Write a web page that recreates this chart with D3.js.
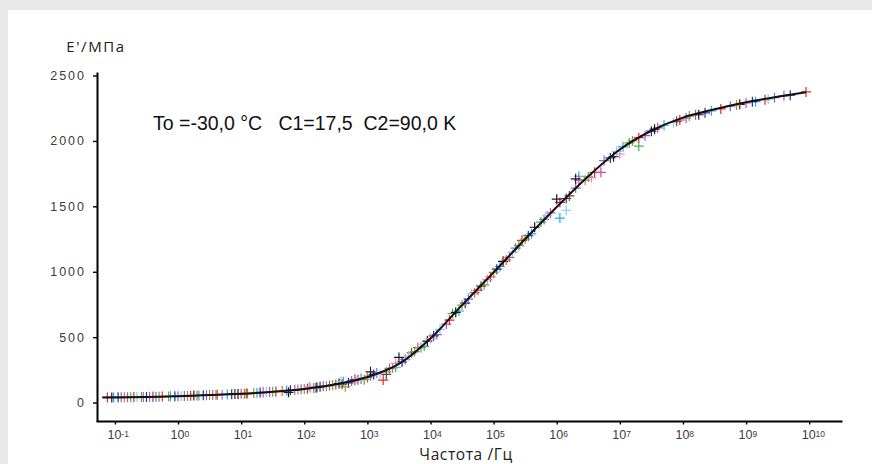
<!DOCTYPE html>
<html>
<head>
<meta charset="utf-8">
<script src="https://cdn.jsdelivr.net/npm/d3@7"></script>
<style>
  html, body { margin: 0; padding: 0; background: #e8e8e8; }
  svg { display: block; }
</style>
</head>
<body>
<svg id="chart" width="872" height="464"></svg>
<script>
// ---- Data (log10 of frequency in Hz, E' in MPa) ----
const xTickExponents = [-1, 0, 1, 2, 3, 4, 5, 6, 7, 8, 9, 10];
const yTickValues = [0, 500, 1000, 1500, 2000, 2500];
const yMinorValues = [-100, 100, 200, 300, 400, 600, 700, 800, 900, 1100, 1200, 1300, 1400,
  1600, 1700, 1800, 1900, 2100, 2200, 2300, 2400];

const masterLogF = [-1.2, -1.0, -0.5, 0, 0.5, 1, 1.5, 2, 2.5, 3, 3.5, 4, 4.5, 5, 5.5, 6, 6.5, 7, 7.5, 8, 8.5, 9, 9.5, 9.95];
const masterE    = [38, 39, 43, 49, 57, 67, 82, 104, 140, 195, 295, 490, 745, 995, 1250, 1495, 1730, 1935, 2078, 2178, 2242, 2296, 2338, 2372];

const seriesColors = ["#e4262c", "#1eaee8", "#8c64c8", "#d4459e", "#45b54a", "#2c2f90",
  "#1c1c1c", "#a39436", "#86cdef", "#ef5b25", "#e382c1", "#7b4a2c"];

const pointsRed = [[-1.12,39],[-0.7,42],[-0.25,46],[0.2,52],[0.62,59],[1.08,69],[1.55,84],[2.05,106],[2.5,138],[2.85,175],[3.25,172],[3.7,380],[4.3,630],[4.95,960],[5.45,1240],[6.05,1530],[6.6,1760],[7.3,2025],[7.95,2160],[8.6,2245],[9.3,2315],[9.95,2375]];
const pointsCyan = [[-1.02,39],[-0.58,43],[-0.12,48],[0.33,54],[0.78,62],[1.25,75],[1.72,92],[2.18,114],[2.62,160],[3.05,205],[3.45,270],[3.9,430],[4.45,700],[5.1,1040],[5.6,1290],[6.05,1410],[6.35,1730],[7.05,1955],[7.7,2120],[8.45,2230],[9.15,2300]];
const pointsPurple = [[-0.9,40],[-0.45,44],[0.0,49],[0.45,56],[0.9,65],[1.35,78],[1.85,97],[2.3,125],[2.75,165],[3.15,225],[3.6,330],[4.1,520],[4.6,790],[5.25,1110],[5.8,1400],[6.3,1640],[6.75,1850],[7.4,2040],[8.05,2175],[8.75,2265],[9.45,2330]];
const pointsMagenta = [[-0.8,41],[-0.35,45],[0.1,50],[0.55,58],[1.0,67],[1.45,80],[1.95,101],[2.4,130],[2.9,180],[3.35,260],[3.8,420],[4.25,600],[4.75,860],[5.35,1180],[5.9,1450],[6.35,1700],[6.7,1760],[7.6,2100],[8.2,2200],[9.0,2290],[9.6,2345]];
const pointsGreen = [[-0.75,41],[-0.3,45],[0.15,51],[0.6,59],[1.05,68],[1.5,82],[2.0,104],[2.45,135],[2.95,175],[3.3,235],[3.75,390],[4.35,680],[4.85,900],[5.4,1200],[5.75,1380],[6.5,1725],[7.15,1985],[7.3,1960]];
const pointsNavy = [[-0.95,40],[-0.5,43],[-0.05,48],[0.4,55],[0.85,64],[1.3,76],[1.78,94],[2.25,120],[2.7,150],[3.1,215],[3.55,310],[4.05,510],[4.55,760],[5.05,1020],[5.55,1275],[6.15,1560],[6.85,1870],[7.5,2075],[8.35,2215],[9.1,2300],[9.7,2350]];
const pointsBlack = [[-1.05,39],[-0.4,44],[0.25,53],[0.95,66],[1.75,78],[2.2,116],[2.55,145],[2.8,175],[3.05,235],[3.5,345],[3.95,470],[4.4,690],[5.15,1080],[5.65,1340],[6.0,1555],[6.3,1710],[6.9,1880],[7.55,2090],[8.25,2200],[8.9,2280]];
const pointsOlive = [[-0.85,40],[-0.15,47],[0.5,57],[1.2,73],[1.9,99],[2.35,125],[2.65,120],[3.4,265],[3.85,420],[4.5,745],[5.0,995],[5.5,1250],[6.45,1700],[7.2,2000],[8.1,2190],[8.85,2275]];
const pointsLightBlue = [[-0.65,42],[0.05,49],[0.7,60],[1.4,80],[2.1,109],[2.58,160],[2.9,190],[3.2,215],[3.65,355],[4.15,560],[4.65,830],[5.3,1150],[5.85,1430],[6.15,1470],[6.95,1920],[7.85,2140],[9.35,2320]];
const pointsOrange = [[-0.55,43],[0.3,54],[1.1,70],[1.65,88],[2.15,111],[3.0,190],[4.7,840],[5.2,1090]];
const pointsPink = [[-0.4,44],[0.7,60],[1.35,78],[2.08,120],[2.8,180],[3.45,300],[4.0,490],[4.9,940],[6.55,1720],[7.0,1900]];
const pointsBrown = [[0.9,65],[2.6,140],[3.3,215],[4.8,890],[6.2,1580],[7.9,2150]];

const allSeries = [pointsRed, pointsCyan, pointsPurple, pointsMagenta, pointsGreen, pointsNavy,
  pointsBlack, pointsOlive, pointsLightBlue, pointsOrange, pointsPink, pointsBrown];

const yAxisTitle = "E'/МПа";
const xAxisTitle = "Частота /Гц";
const annotation = "To =-30,0 °C   C1=17,5  C2=90,0 K";

// ---- Drawing ----
const svg = d3.select("#chart");
svg.append("rect").attr("x", 0).attr("y", 0).attr("width", 872).attr("height", 464).attr("fill", "#e8e8e8");
svg.append("rect").attr("x", 8).attr("y", 10).attr("width", 864).attr("height", 454).attr("fill", "#ffffff");

const x = d3.scaleLog().domain([Math.pow(10, -1.3), Math.pow(10, 10.52)]).range([96, 842]);
const y = d3.scaleLinear().domain([-141, 2527]).range([421, 72]);

// Points
const plusPath = "M-5,0H5M0,-5V5";
const gPts = svg.append("g");
allSeries.forEach((pts, i) => {
  gPts.selectAll(null).data(pts).enter().append("path")
    .attr("d", plusPath)
    .attr("transform", d => `translate(${x(Math.pow(10, d[0]))},${y(d[1])})`)
    .attr("stroke", seriesColors[i])
    .attr("stroke-width", 1.2)
    .attr("fill", "none");
});

// Master curve
const master = masterLogF.map((lf, i) => [Math.pow(10, lf), masterE[i]]);
svg.append("path")
  .datum(master)
  .attr("fill", "none")
  .attr("stroke", "#111")
  .attr("stroke-width", 2)
  .attr("d", d3.line().x(d => x(d[0])).y(d => y(d[1])).curve(d3.curveMonotoneX));

// Y axis
const gy = svg.append("g").attr("transform", "translate(97,0)");
gy.call(d3.axisLeft(y).tickValues(yMinorValues).tickSize(2.5).tickFormat(() => "").tickSizeOuter(0));
gy.call(d3.axisLeft(y).tickValues(yTickValues).tickSize(4).tickPadding(7).tickSizeOuter(0).tickFormat(d3.format("d")));
gy.selectAll(".domain").attr("stroke", "#000").attr("stroke-width", 2);
gy.selectAll(".tick line").attr("stroke", "#000").attr("stroke-width", 1.4);
gy.selectAll(".tick text").attr("font-family", "Liberation Sans, Arial, sans-serif")
  .attr("font-size", 12.5).attr("fill", "#3c3c3c").style("letter-spacing", "2px");

// X axis
const gx = svg.append("g").attr("transform", "translate(0,421)");
gx.call(d3.axisBottom(x).tickValues(xTickExponents.map(e => Math.pow(10, e))).tickSize(3.5).tickPadding(6).tickSizeOuter(0).tickFormat(() => ""));
gx.selectAll(".domain").attr("stroke", "#000").attr("stroke-width", 2);
gx.selectAll(".tick line").attr("stroke", "#000").attr("stroke-width", 1.4);
gx.selectAll(".tick text")
  .attr("font-family", "Liberation Sans, Arial, sans-serif").attr("font-size", 12.5).attr("fill", "#3c3c3c")
  .attr("text-anchor", "start")
  .each(function(d, i) {
    const t = d3.select(this);
    t.attr("x", -8);
    t.append("tspan").text("10");
    t.append("tspan").attr("dy", -2.6).attr("font-size", 8.5).text(String(xTickExponents[i]));
  });

// Titles
svg.append("text").attr("x", 96).attr("y", 52).attr("text-anchor", "middle")
  .attr("font-family", "Open Sans, sans-serif").attr("font-size", 15).attr("fill", "#222")
  .style("letter-spacing", "1.6px")
  .text(yAxisTitle);
svg.append("text").attr("x", 466).attr("y", 460).attr("text-anchor", "middle")
  .attr("font-family", "Open Sans, sans-serif").attr("font-size", 15.5).attr("fill", "#222")
  .style("letter-spacing", "0.6px")
  .text(xAxisTitle);
svg.append("text").attr("x", 153).attr("y", 130)
  .attr("font-family", "Liberation Sans, Arial, sans-serif").attr("font-size", 19.5).attr("fill", "#111")
  .style("white-space", "pre")
  .text(annotation);
</script>
</body>
</html>
